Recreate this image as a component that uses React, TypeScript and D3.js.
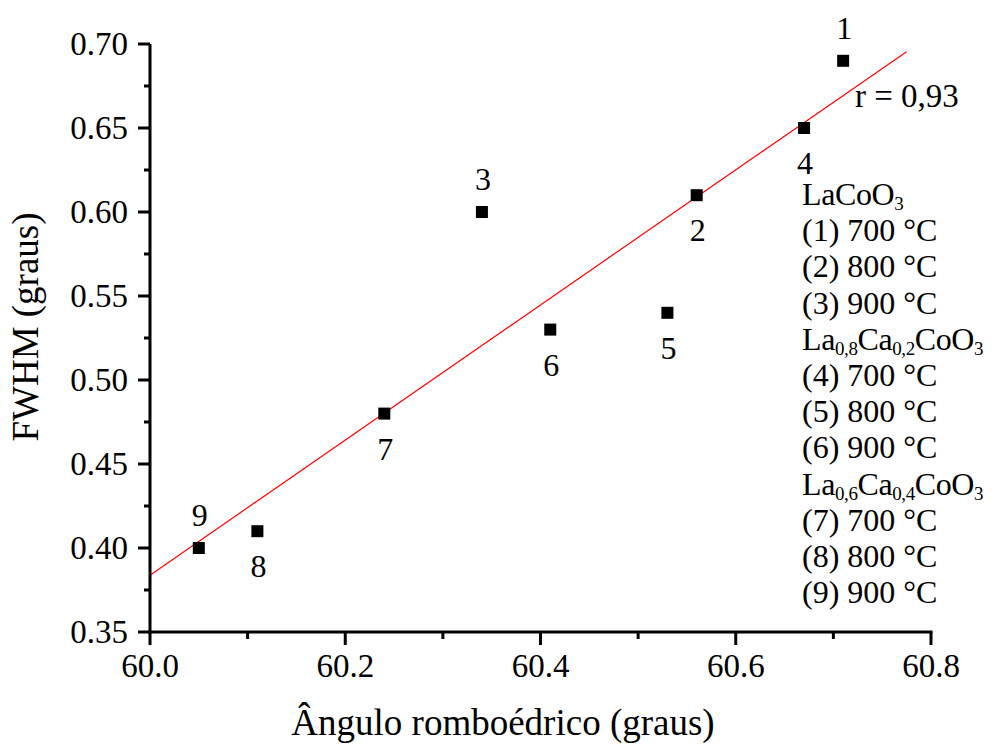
import React from "react";
import * as d3 from "d3";

const sampleIds = ["1", "2", "3", "4", "5", "6", "7", "8", "9"];
const angleValues = [60.71, 60.56, 60.34, 60.67, 60.53, 60.41, 60.24, 60.11, 60.05];
const fwhmValues = [0.69, 0.61, 0.6, 0.65, 0.54, 0.53, 0.48, 0.41, 0.4];
const labelSide = ["above", "below", "above", "below", "below", "below", "below", "below", "above"];
const xTicks = [60.0, 60.2, 60.4, 60.6, 60.8];
const yTicks = [0.35, 0.4, 0.45, 0.5, 0.55, 0.6, 0.65, 0.7];
const fitRange = [60.0, 60.775];
const rText = "r = 0,93";
const legendLines: { text: string; sub?: boolean }[] = [
  { text: "LaCoO3", sub: true },
  { text: "(1) 700 °C" },
  { text: "(2) 800 °C" },
  { text: "(3) 900 °C" },
  { text: "La0,8Ca0,2CoO3", sub: true },
  { text: "(4) 700 °C" },
  { text: "(5) 800 °C" },
  { text: "(6) 900 °C" },
  { text: "La0,6Ca0,4CoO3", sub: true },
  { text: "(7) 700 °C" },
  { text: "(8) 800 °C" },
  { text: "(9) 900 °C" },
];

function formulaParts(s: string) {
  const parts: { t: string; sub: boolean }[] = [];
  const re = /([A-Za-z]+)|([0-9,]+)/g;
  let m;
  while ((m = re.exec(s))) {
    if (m[1]) parts.push({ t: m[1], sub: false });
    else parts.push({ t: m[2], sub: true });
  }
  return parts;
}

export default function App() {
  const W = 996, H = 745;
  const x = d3.scaleLinear().domain([60.0, 60.8]).range([150, 931]);
  const y = d3.scaleLinear().domain([0.35, 0.7]).range([632, 44]);
  const font = "'Liberation Serif', 'Times New Roman', serif";

  const xm = d3.mean(angleValues)!;
  const ym = d3.mean(fwhmValues)!;
  let sxy = 0, sxx = 0;
  angleValues.forEach((a, i) => {
    sxy += (a - xm) * (fwhmValues[i] - ym);
    sxx += (a - xm) * (a - xm);
  });
  const slope = sxy / sxx;
  const icpt = ym - slope * xm;
  const line = d3.line<number>().x((d) => x(d)).y((d) => y(icpt + slope * d));

  const xMinor = d3.range(0, 9).map((i) => 60.0 + i * 0.1);
  const yMinor = d3.range(0, 15).map((i) => 0.35 + i * 0.025);

  return (
    <svg width={W} height={H} style={{ display: "block", position: "absolute", left: 0, top: 0 }} fontFamily={font}>
      <rect width={W} height={H} fill="white" />
      <path d={line(fitRange) || ""} stroke="#ff0000" strokeWidth={1.2} fill="none" />
      <line x1={150} x2={150} y1={y(0.7)} y2={y(0.35) + 1.5} stroke="black" strokeWidth={3} />
      <line x1={148.5} x2={x(60.8) + 1.5} y1={632} y2={632} stroke="black" strokeWidth={3} />
      {yMinor.map((v, i) => (
        <line key={"ym" + i} x1={i % 2 === 0 ? 138 : 144} x2={150} y1={y(v)} y2={y(v)} stroke="black" strokeWidth={3} />
      ))}
      {xMinor.map((v, i) => (
        <line key={"xm" + i} x1={x(v)} x2={x(v)} y1={632} y2={i % 2 === 0 ? 645 : 639} stroke="black" strokeWidth={3} />
      ))}
      {yTicks.map((v) => (
        <text key={"yt" + v} x={128} y={y(v) + 10.5} textAnchor="end" fontSize={33}>
          {d3.format(".2f")(v)}
        </text>
      ))}
      {xTicks.map((v) => (
        <text key={"xt" + v} x={x(v)} y={677} textAnchor="middle" fontSize={33}>
          {d3.format(".1f")(v)}
        </text>
      ))}
      <text x={503} y={735} textAnchor="middle" fontSize={37}>Ângulo romboédrico (graus)</text>
      <text transform={`translate(38,327) rotate(-90)`} textAnchor="middle" fontSize={37}>
        FWHM (graus)
      </text>
      {angleValues.map((a, i) => (
        <g key={"p" + i}>
          <rect x={x(a) - 6} y={y(fwhmValues[i]) - 6} width={12} height={12} fill="black" />
          <text
            x={x(a) + 1}
            y={y(fwhmValues[i]) + (labelSide[i] === "above" ? -22 : 46)}
            textAnchor="middle"
            fontSize={32}
          >
            {sampleIds[i]}
          </text>
        </g>
      ))}
      <text x={855} y={107} fontSize={33}>{rText}</text>
      {legendLines.map((l, i) => (
        <text key={"lg" + i} x={802} y={205 + i * 36.2} fontSize={32} letterSpacing={l.sub ? -0.4 : 0}>
          {l.sub
            ? formulaParts(l.text).map((p, j) =>
                p.sub ? (
                  <tspan key={j} fontSize={19} dy={5}>{p.t}</tspan>
                ) : (
                  <tspan key={j} dy={j === 0 ? 0 : -5}>{p.t}</tspan>
                )
              )
            : l.text}
        </text>
      ))}
    </svg>
  );
}
